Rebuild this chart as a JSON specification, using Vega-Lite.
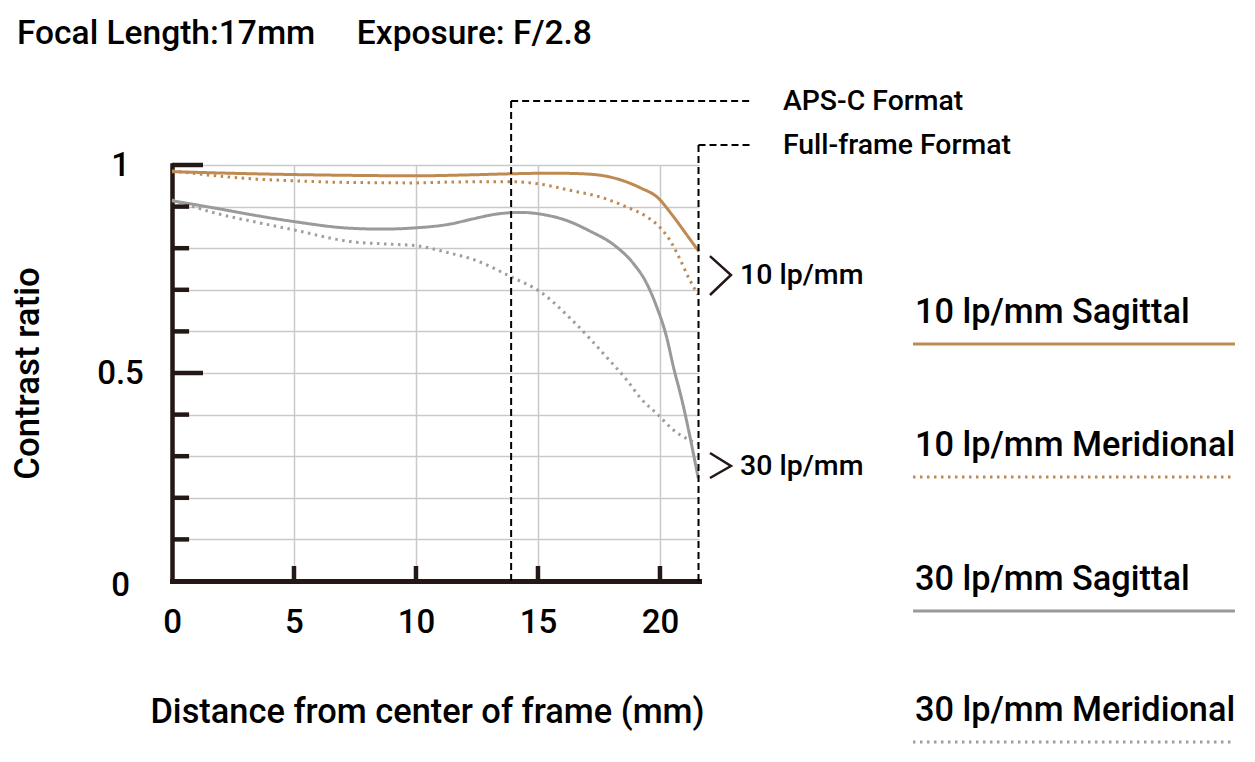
{
  "$schema": "https://vega.github.io/schema/vega-lite/v6.json",
  "width": 527,
  "height": 416,
  "autosize": {"type": "none"},
  "padding": {"left": 172, "top": 165, "right": 556, "bottom": 181},
  "background": "#ffffff",
  "config": {"view": {"stroke": null}, "font": "Roboto"},
  "title": {
    "text": "Focal Length:17mm\u00a0\u00a0\u00a0\u00a0\u00a0Exposure: F/2.8",
    "anchor": "start", "frame": "group", "dx": -155, "offset": 19,
    "fontSize": 33.5, "fontWeight": 500, "font": "Roboto", "color": "#000000", "baseline": "middle"
  },
  "datasets": {
    "curves": [
      {"s": "S10", "x": 0, "y": 0.984}, {"s": "S10", "x": 2.5, "y": 0.98}, {"s": "S10", "x": 5, "y": 0.977},
      {"s": "S10", "x": 7.5, "y": 0.975}, {"s": "S10", "x": 10, "y": 0.974}, {"s": "S10", "x": 12, "y": 0.976},
      {"s": "S10", "x": 14, "y": 0.979}, {"s": "S10", "x": 15, "y": 0.98}, {"s": "S10", "x": 16, "y": 0.98},
      {"s": "S10", "x": 17.1, "y": 0.978}, {"s": "S10", "x": 17.8, "y": 0.973}, {"s": "S10", "x": 18.4, "y": 0.964},
      {"s": "S10", "x": 19.2, "y": 0.945}, {"s": "S10", "x": 19.9, "y": 0.922}, {"s": "S10", "x": 20.5, "y": 0.88},
      {"s": "S10", "x": 21.1, "y": 0.832}, {"s": "S10", "x": 21.6, "y": 0.792},
      {"s": "M10", "x": 0, "y": 0.986}, {"s": "M10", "x": 1.8, "y": 0.974}, {"s": "M10", "x": 3.5, "y": 0.966},
      {"s": "M10", "x": 5, "y": 0.962}, {"s": "M10", "x": 7.3, "y": 0.958}, {"s": "M10", "x": 10, "y": 0.957},
      {"s": "M10", "x": 11.4, "y": 0.959}, {"s": "M10", "x": 13.9, "y": 0.96}, {"s": "M10", "x": 15.1, "y": 0.954},
      {"s": "M10", "x": 16.4, "y": 0.938}, {"s": "M10", "x": 17.5, "y": 0.924}, {"s": "M10", "x": 18.6, "y": 0.9},
      {"s": "M10", "x": 19.45, "y": 0.876}, {"s": "M10", "x": 20, "y": 0.85}, {"s": "M10", "x": 20.4, "y": 0.82},
      {"s": "M10", "x": 20.8, "y": 0.776}, {"s": "M10", "x": 21.15, "y": 0.732}, {"s": "M10", "x": 21.56, "y": 0.688},
      {"s": "S30", "x": 0, "y": 0.914}, {"s": "S30", "x": 1.8, "y": 0.896}, {"s": "S30", "x": 3.5, "y": 0.878},
      {"s": "S30", "x": 5, "y": 0.864}, {"s": "S30", "x": 7.3, "y": 0.848}, {"s": "S30", "x": 8.6, "y": 0.846},
      {"s": "S30", "x": 10, "y": 0.849}, {"s": "S30", "x": 11.4, "y": 0.858}, {"s": "S30", "x": 12.3, "y": 0.87},
      {"s": "S30", "x": 13.3, "y": 0.882}, {"s": "S30", "x": 14.3, "y": 0.886}, {"s": "S30", "x": 15.3, "y": 0.88},
      {"s": "S30", "x": 16.2, "y": 0.866}, {"s": "S30", "x": 17.1, "y": 0.842}, {"s": "S30", "x": 18.2, "y": 0.804},
      {"s": "S30", "x": 18.9, "y": 0.764}, {"s": "S30", "x": 19.45, "y": 0.716}, {"s": "S30", "x": 19.86, "y": 0.66},
      {"s": "S30", "x": 20.27, "y": 0.587}, {"s": "S30", "x": 20.55, "y": 0.515}, {"s": "S30", "x": 20.9, "y": 0.435},
      {"s": "S30", "x": 21.57, "y": 0.247},
      {"s": "M30", "x": 0, "y": 0.916}, {"s": "M30", "x": 1.8, "y": 0.884}, {"s": "M30", "x": 3.5, "y": 0.862},
      {"s": "M30", "x": 5, "y": 0.844}, {"s": "M30", "x": 7.3, "y": 0.816}, {"s": "M30", "x": 8.8, "y": 0.81},
      {"s": "M30", "x": 10, "y": 0.806}, {"s": "M30", "x": 11.4, "y": 0.788}, {"s": "M30", "x": 12.4, "y": 0.772},
      {"s": "M30", "x": 13.9, "y": 0.731}, {"s": "M30", "x": 15.1, "y": 0.695}, {"s": "M30", "x": 16.4, "y": 0.627},
      {"s": "M30", "x": 17.8, "y": 0.539}, {"s": "M30", "x": 18.64, "y": 0.483}, {"s": "M30", "x": 19.2, "y": 0.44},
      {"s": "M30", "x": 19.93, "y": 0.399}, {"s": "M30", "x": 20.55, "y": 0.363}, {"s": "M30", "x": 21.56, "y": 0.33}
    ],
    "xticks": [{"x": 5}, {"x": 10}, {"x": 15}, {"x": 20}],
    "yticksLong": [{"y": 0.5}, {"y": 1}],
    "yticksShort": [{"y": 0.1}, {"y": 0.2}, {"y": 0.3}, {"y": 0.4}, {"y": 0.6}, {"y": 0.7}, {"y": 0.8}, {"y": 0.9}],
    "fmt": [
      {"x": 13.9, "x2": 13.9, "y": 0, "y2": 1.154},
      {"x": 13.9, "x2": 23.7, "y": 1.154, "y2": 1.154},
      {"x": 21.58, "x2": 21.58, "y": 0, "y2": 1.048},
      {"x": 21.58, "x2": 23.7, "y": 1.048, "y2": 1.048}
    ],
    "fmtText": [{"label": "APS-C Format", "y": 1.154}, {"label": "Full-frame Format", "y": 1.048}],
    "chevrons": [
      {"g": "10", "o": 1, "x": 22.05, "y": 0.781}, {"g": "10", "o": 2, "x": 22.91, "y": 0.7356}, {"g": "10", "o": 3, "x": 22.05, "y": 0.6875},
      {"g": "30", "o": 1, "x": 22.05, "y": 0.3077}, {"g": "30", "o": 2, "x": 22.91, "y": 0.2764}, {"g": "30", "o": 3, "x": 22.05, "y": 0.2476}
    ],
    "annot": [{"label": "10 lp/mm", "y": 0.7356}, {"label": "30 lp/mm", "y": 0.2764}],
    "legend": [
      {"s": "S10", "label": "10 lp/mm Sagittal", "y": 0.5697},
      {"s": "M10", "label": "10 lp/mm Meridional", "y": 0.25},
      {"s": "S30", "label": "30 lp/mm Sagittal", "y": -0.0721},
      {"s": "M30", "label": "30 lp/mm Meridional", "y": -0.387}
    ]
  },
  "layer": [
    {
      "data": {"name": "curves"},
      "mark": {"type": "line", "interpolate": "monotone", "strokeWidth": 3, "clip": false},
      "encoding": {
        "x": {
          "field": "x", "type": "quantitative",
          "scale": {"domain": [0, 21.6], "nice": false, "zero": false},
          "axis": {
            "values": [0, 5, 10, 15, 20], "ticks": false,
            "domainColor": "#231815", "domainWidth": 5, "domainCap": "square",
            "gridColor": "#C9C9C9", "gridWidth": 1.5,
            "labelFlush": false, "labelOverlap": false,
            "labelPadding": 41, "labelBaseline": "middle", "labelAlign": "center",
            "labelFontSize": 33, "labelFontWeight": 500, "labelFont": "Roboto", "labelColor": "#000000",
            "title": "Distance from center of frame (mm)",
            "titleFontSize": 34.4, "titleFontWeight": 500, "titleFont": "Roboto", "titleColor": "#000000",
            "titleX": 255, "titleY": 131, "titleBaseline": "middle", "titleAlign": "center"
          }
        },
        "y": {
          "field": "y", "type": "quantitative",
          "scale": {"domain": [0, 1], "nice": false, "zero": false},
          "axis": {
            "values": [0, 0.1, 0.2, 0.3, 0.4, 0.5, 0.6, 0.7, 0.8, 0.9, 1], "ticks": false,
            "domainColor": "#231815", "domainWidth": 4.5, "domainCap": "square",
            "gridColor": "#C9C9C9", "gridWidth": 1.5,
            "labelOverlap": false,
            "labelExpr": "datum.value === 0 ? '0' : datum.value === 0.5 ? '0.5' : datum.value === 1 ? '1' : ''",
            "labelPadding": 52, "labelBaseline": "middle", "labelAlign": "center",
            "labelOffset": {"condition": {"test": "datum.value === 0", "value": 4}, "value": 0},
            "labelFontSize": 33, "labelFontWeight": 500, "labelFont": "Roboto", "labelColor": "#000000",
            "title": "Contrast ratio",
            "titleFontSize": 34.8, "titleFontWeight": 500, "titleFont": "Roboto", "titleColor": "#000000",
            "titleX": -144, "titleY": 208, "titleAngle": -90, "titleBaseline": "middle", "titleAlign": "center"
          }
        },
        "color": {
          "field": "s", "type": "nominal",
          "scale": {"domain": ["S10", "M10", "S30", "M30"], "range": ["#BE8A52", "#BE8A52", "#9A9A9A", "#9E9E9E"]},
          "legend": null
        },
        "strokeDash": {
          "field": "s", "type": "nominal",
          "scale": {"domain": ["S10", "M10", "S30", "M30"], "range": [[1, 0], [2.5, 4.5], [1, 0], [2.5, 4.5]]},
          "legend": null
        }
      }
    },
    {
      "data": {"name": "fmt"},
      "mark": {"type": "rule", "color": "#000000", "strokeWidth": 2, "strokeDash": [7, 4], "clip": false},
      "encoding": {
        "x": {"field": "x", "type": "quantitative", "scale": {"domain": [0, 21.6], "nice": false, "zero": false}},
        "x2": {"field": "x2"},
        "y": {"field": "y", "type": "quantitative", "scale": {"domain": [0, 1], "nice": false, "zero": false}},
        "y2": {"field": "y2"}
      }
    },
    {
      "data": {"name": "xticks"},
      "mark": {"type": "rule", "color": "#231815", "strokeWidth": 4.5, "clip": false},
      "encoding": {
        "x": {"field": "x", "type": "quantitative", "scale": {"domain": [0, 21.6], "nice": false, "zero": false}},
        "y": {"datum": 0, "type": "quantitative", "scale": {"domain": [0, 1], "nice": false, "zero": false}},
        "y2": {"datum": 0.036}
      }
    },
    {
      "data": {"name": "yticksLong"},
      "mark": {"type": "rule", "color": "#231815", "strokeWidth": 4.5, "clip": false},
      "encoding": {
        "y": {"field": "y", "type": "quantitative", "scale": {"domain": [0, 1], "nice": false, "zero": false}},
        "x": {"datum": 0, "type": "quantitative", "scale": {"domain": [0, 21.6], "nice": false, "zero": false}},
        "x2": {"datum": 1.27}
      }
    },
    {
      "data": {"name": "yticksShort"},
      "mark": {"type": "rule", "color": "#231815", "strokeWidth": 4.5, "clip": false},
      "encoding": {
        "y": {"field": "y", "type": "quantitative", "scale": {"domain": [0, 1], "nice": false, "zero": false}},
        "x": {"datum": 0, "type": "quantitative", "scale": {"domain": [0, 21.6], "nice": false, "zero": false}},
        "x2": {"datum": 0.7}
      }
    },
    {
      "data": {"name": "fmtText"},
      "mark": {"type": "text", "align": "left", "baseline": "middle", "fontSize": 28.4, "fontWeight": 500, "font": "Roboto", "color": "#000000", "clip": false},
      "encoding": {
        "x": {"datum": 25.04, "type": "quantitative", "scale": {"domain": [0, 21.6], "nice": false, "zero": false}},
        "y": {"field": "y", "type": "quantitative", "scale": {"domain": [0, 1], "nice": false, "zero": false}},
        "text": {"field": "label"}
      }
    },
    {
      "data": {"name": "chevrons"},
      "mark": {"type": "line", "color": "#231815", "strokeWidth": 2.5, "clip": false},
      "encoding": {
        "x": {"field": "x", "type": "quantitative", "scale": {"domain": [0, 21.6], "nice": false, "zero": false}},
        "y": {"field": "y", "type": "quantitative", "scale": {"domain": [0, 1], "nice": false, "zero": false}},
        "detail": {"field": "g"},
        "order": {"field": "o", "type": "quantitative"}
      }
    },
    {
      "data": {"name": "annot"},
      "mark": {"type": "text", "align": "left", "baseline": "middle", "fontSize": 28.5, "fontWeight": 500, "font": "Roboto", "color": "#000000", "clip": false},
      "encoding": {
        "x": {"datum": 23.28, "type": "quantitative", "scale": {"domain": [0, 21.6], "nice": false, "zero": false}},
        "y": {"field": "y", "type": "quantitative", "scale": {"domain": [0, 1], "nice": false, "zero": false}},
        "text": {"field": "label"}
      }
    },
    {
      "data": {"name": "legend"},
      "mark": {"type": "rule", "strokeWidth": 3, "clip": false},
      "encoding": {
        "x": {"datum": 30.37, "type": "quantitative", "scale": {"domain": [0, 21.6], "nice": false, "zero": false}},
        "x2": {"datum": 43.57},
        "y": {"field": "y", "type": "quantitative", "scale": {"domain": [0, 1], "nice": false, "zero": false}},
        "color": {
          "field": "s", "type": "nominal",
          "scale": {"domain": ["S10", "M10", "S30", "M30"], "range": ["#BE8A52", "#BE8A52", "#9A9A9A", "#9E9E9E"]},
          "legend": null
        },
        "strokeDash": {
          "field": "s", "type": "nominal",
          "scale": {"domain": ["S10", "M10", "S30", "M30"], "range": [[1, 0], [2.5, 4.5], [1, 0], [2.5, 4.5]]},
          "legend": null
        }
      }
    },
    {
      "data": {"name": "legend"},
      "mark": {"type": "text", "align": "left", "baseline": "middle", "dy": -31, "fontSize": 34.3, "fontWeight": 500, "font": "Roboto", "color": "#000000", "clip": false},
      "encoding": {
        "x": {"datum": 30.45, "type": "quantitative", "scale": {"domain": [0, 21.6], "nice": false, "zero": false}},
        "y": {"field": "y", "type": "quantitative", "scale": {"domain": [0, 1], "nice": false, "zero": false}},
        "text": {"field": "label"}
      }
    }
  ]
}
